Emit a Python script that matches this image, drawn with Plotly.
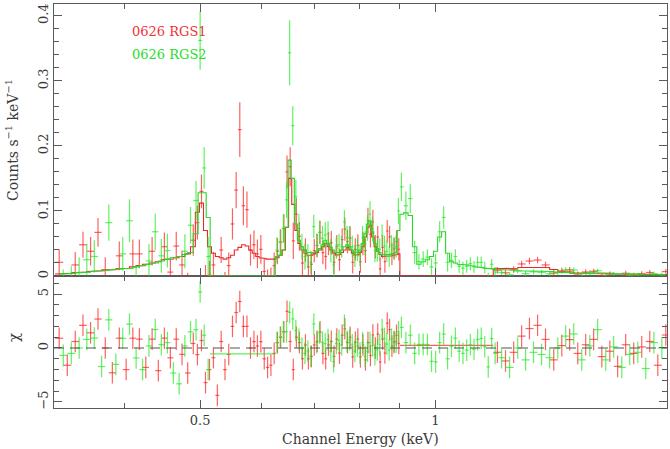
import numpy as np
import plotly.graph_objects as go

# RGS1 (red) - channels below and above the chip gap
rgs1_lo_e = [0.330, 0.338, 0.346, 0.354, 0.362, 0.370, 0.378, 0.386, 0.394, 0.402, 0.410, 0.418, 0.426, 0.434,
             0.442, 0.450, 0.458, 0.466, 0.474, 0.482, 0.490,
             0.496, 0.502, 0.508, 0.514, 0.520, 0.526, 0.532, 0.538, 0.544, 0.550, 0.556, 0.562, 0.568, 0.574,
             0.580, 0.586, 0.592, 0.598, 0.604, 0.610, 0.616, 0.622, 0.628, 0.634, 0.640, 0.646, 0.652, 0.658,
             0.664, 0.670, 0.676, 0.682, 0.688, 0.694, 0.700, 0.706, 0.712, 0.718, 0.724, 0.730, 0.736, 0.742,
             0.748, 0.754, 0.760, 0.766, 0.772, 0.778, 0.784, 0.790, 0.796, 0.802, 0.808, 0.814, 0.820, 0.826,
             0.832, 0.838, 0.844, 0.850, 0.856, 0.862, 0.868, 0.874, 0.880, 0.886, 0.892, 0.898]
rgs1_lo_model = [.003, .004, .005, .006, .007, .008, .009, .010, .011, .012, .014, .016, .018, .020,
                 .022, .025, .026, .028, .030, .034, .045,
                 .098, .112, .070, .045, .035, .030, .028, .026, .028, .032, .040, .044, .048, .046,
                 .040, .035, .030, .028, .027, .026, .025, .026, .028, .032, .040, .075, .150, .110,
                 .070, .050, .040, .035, .032, .032, .034, .036, .040, .045, .050, .045, .040, .035,
                 .032, .033, .036, .040, .044, .040, .035, .032, .033, .036, .045, .060, .075, .078,
                 .060, .045, .038, .033, .030, .030, .030, .031, .031, .032, .033, .034]
rgs1_lo_rate = [.021, -.028, .017, .048, .038, .067, .009, -.036, .031, -.028, .034, .034, -.018, .038,
                -.020, .045, .006, .046, .017, -.017, .055,
                .082, .130, -.007, .001, .017, -.049, .040, -.014, .016, .080, .132, .225, .108, .102,
                .040, .048, .034, .041, .007, -.010, -.007, .016, .038, .052, .073, .160, .168, .054,
                .095, .061, .020, .040, .014, .018, .039, .047, .067, .036, .030, .050, .051, .021,
                .046, .025, .056, .072, .053, .058, .021, .041, .047, .022, .050, .039, .085, .064,
                .083, .045, .060, .011, .044, .022, .069, .060, .034, .042, .053, .041]
rgs1_lo_err = [.020, .020, .020, .020, .022, .022, .020, .020, .022, .020, .022, .022, .020, .022,
               .020, .022, .022, .022, .022, .022, .024,
               .026, .026, .024, .022, .020, .018, .020, .020, .020, .024, .028, .042, .030, .028,
               .024, .022, .022, .022, .020, .020, .020, .020, .020, .020, .022, .025, .030, .028,
               .025, .022, .020, .018, .018, .018, .018, .018, .018, .018, .020, .018, .018, .018,
               .017, .017, .017, .018, .018, .018, .017, .017, .017, .017, .018, .019, .020, .020,
               .019, .018, .017, .017, .017, .017, .017, .017, .017, .017, .017, .017]

rgs1_hi_e = [1.201, 1.230, 1.260, 1.290, 1.320, 1.352, 1.384, 1.418, 1.452, 1.486, 1.522,
             1.558, 1.595, 1.634, 1.673, 1.712, 1.753, 1.795, 1.838, 1.882, 1.927, 1.973]
rgs1_hi_model = [.011, .011, .012, .013, .014, .014, .013, .010, .007, .006, .005,
                 .005, .004, .004, .004, .003, .003, .003, .003, .003, .002, .002]
rgs1_hi_rate = [.009, .005, .010, .0185, .023, .0245, .017, .0045, .008, .0095, .003,
                .0062, .0072, .0008, .0028, -.0038, .0042, .001, .0034, .0054, -.0044, .0068]
rgs1_hi_err = [.005, .005, .005, .005, .005, .005, .005, .005, .0045, .0045, .004,
               .004, .004, .004, .004, .004, .004, .004, .004, .004, .004, .004]
rgs1_gap_chi = 0.25

# RGS2 (green)
rgs2_lo_e = [0.334, 0.342, 0.350, 0.358, 0.366, 0.374, 0.382, 0.390, 0.398, 0.406, 0.414, 0.422,
             0.430, 0.438, 0.446, 0.454, 0.462, 0.470, 0.478, 0.486, 0.494, 0.500, 0.506, 0.512]
rgs2_lo_model = [.003, .004, .005, .006, .007, .008, .009, .010, .011, .012, .014, .016,
                 .018, .020, .023, .026, .028, .030, .033, .036, .065, .128, .128, .090]
rgs2_lo_rate = [-.012, -.007, .005, .025, .030, -.035, .082, -.028, .034, .085, -.009, -.034,
                .023, .068, .031, .039, -.030, -.053, .038, .078, .116, .362, .166, .030]
rgs2_lo_err = [.022, .022, .024, .024, .025, .025, .028, .025, .026, .033, .025, .025,
               .026, .028, .026, .026, .025, .025, .026, .028, .030, .045, .032, .030]

rgs2_hi_e = [0.627, 0.633, 0.639, 0.645, 0.651, 0.657, 0.663, 0.669, 0.675, 0.681, 0.687, 0.693,
             0.699, 0.705, 0.711, 0.717, 0.723, 0.729, 0.735, 0.741, 0.747, 0.753, 0.759, 0.765,
             0.771, 0.777, 0.783, 0.789, 0.795, 0.801, 0.807, 0.813, 0.819, 0.825, 0.831, 0.837,
             0.843, 0.849, 0.855, 0.861, 0.867, 0.873, 0.879, 0.885, 0.891, 0.897,
             0.905, 0.917, 0.929, 0.941, 0.953, 0.965, 0.977, 0.989, 1.001, 1.013, 1.025, 1.037,
             1.049, 1.061, 1.073, 1.085, 1.097, 1.109, 1.121, 1.133, 1.145, 1.157, 1.169, 1.181, 1.193,
             1.216, 1.245, 1.275, 1.305, 1.336, 1.368, 1.401, 1.435, 1.469, 1.504, 1.540, 1.577,
             1.614, 1.653, 1.692, 1.733, 1.774, 1.817, 1.860, 1.905, 1.950]
rgs2_hi_model = [.030, .032, .040, .075, .178, .150, .080, .055, .045, .040, .036, .035,
                 .036, .038, .042, .048, .055, .050, .044, .040, .036, .036, .040, .045,
                 .048, .045, .040, .036, .037, .040, .050, .065, .080, .085, .068, .050,
                 .042, .036, .033, .032, .032, .033, .034, .035, .036, .070,
                 .095, .097, .093, .045, .018, .022, .025, .030, .038, .060, .068, .035,
                 .022, .020, .018, .017, .017, .016, .015, .014, .013, .012, .011, .011, .010,
                 .009, .009, .008, .008, .008, .008, .007, .006, .005, .004, .004, .004,
                 .003, .003, .003, .003, .003, .003, .002, .002, .002]
rgs2_hi_rate = [.040, .052, .073, .117, .343, .231, .122, .073, .045, .030, .031, .021,
                .076, .047, .067, .058, .063, .065, .039, .017, .043, .048, .045, .083,
                .059, .059, .045, .031, .040, .032, .059, .050, .074, .095, .072, .039,
                .039, .041, .062, .046, .038, .030, .047, .043, .045, .100,
                .137, .108, .119, .036, .022, .026, .029, .014, .020, .068, .090, .021,
                .024, .030, .015, .012, .015, .019, .014, .021, .021, .013, -.003, .018, .006,
                .0054, .0018, .008, .0036, .0064, .0056, .0034, .006, .0094, .0092, -.0004, .0048,
                .0081, -.0003, .0033, -.0024, .0012, .0018, -.0037, .0035, .002]
rgs2_hi_err = [.020, .020, .022, .028, .050, .030, .026, .022, .020, .020, .018, .018,
               .018, .018, .018, .019, .020, .019, .018, .018, .017, .017, .017, .018,
               .018, .018, .017, .017, .017, .017, .018, .019, .020, .020, .019, .018,
               .017, .017, .017, .016, .016, .016, .016, .016, .017, .020,
               .022, .022, .022, .018, .012, .012, .012, .013, .014, .016, .017, .014,
               .012, .011, .010, .010, .010, .010, .009, .009, .009, .009, .008, .008, .008,
               .004, .004, .004, .004, .004, .004, .004, .004, .004, .004, .004, .004,
               .003, .003, .003, .003, .003, .003, .003, .003, .003]
rgs2_gap_chi = -0.55

x_ticks = [0.5, 1]
x_minor = [0.4, 0.6, 0.7, 0.8, 0.9, 2]

RED = 'rgba(255,30,30,0.7)'
GREEN = 'rgba(30,235,30,0.7)'
FRAME = '#5a5a5a'
TXT = '#3a3a3a'
FONT = 'DejaVu Serif'


def bin_edges(c):
    c = np.asarray(c)
    mid = (c[1:] + c[:-1]) / 2
    left = np.concatenate([[c[0] - (c[1] - c[0]) / 2], mid])
    right = np.concatenate([mid, [c[-1] + (c[-1] - c[-2]) / 2]])
    return left, right


def add_group(fig, lo, hi, gap_chi, color, lcolor):
    step_x, step_y = [], []
    gap = []
    hidden = dict(size=1, color='rgba(0,0,0,0)')
    for e, rate, err, model in (lo, hi):
        e, rate, err, model = map(np.asarray, (e, rate, err, model))
        left, right = bin_edges(e)
        gap.append((left[0], right[-1]))
        chi = (rate - model) / err
        xerr = dict(type='data', array=right - e, arrayminus=e - left, width=0,
                    thickness=1.2, color=color)
        fig.add_trace(go.Scatter(x=e, y=rate, mode='markers', marker=hidden,
                                 error_x=xerr, error_y=dict(type='data', array=err, width=0,
                                                            thickness=1.2, color=color),
                                 xaxis='x2', yaxis='y2'))
        fig.add_trace(go.Scatter(x=e, y=chi, mode='markers', marker=hidden,
                                 error_x=xerr, error_y=dict(type='data', array=np.ones(len(e)),
                                                            width=0, thickness=1.2, color=color),
                                 xaxis='x', yaxis='y'))
        step_x.append(np.column_stack([left, right]).ravel())
        step_y.append(np.repeat(model, 2))
    g0, g1 = gap[0][1], gap[1][0]
    sx = np.concatenate([step_x[0], [g0, g1], step_x[1]])
    sy = np.concatenate([step_y[0], [0, 0], step_y[1]])
    fig.add_trace(go.Scatter(x=sx, y=sy, mode='lines', line=dict(color=lcolor, width=1.1),
                             xaxis='x2', yaxis='y2'))
    fig.add_trace(go.Scatter(x=[g0, g1], y=[gap_chi, gap_chi], mode='lines',
                             line=dict(color=color, width=1.3), xaxis='x', yaxis='y'))


fig = go.Figure()
add_group(fig, (rgs1_lo_e, rgs1_lo_rate, rgs1_lo_err, rgs1_lo_model),
          (rgs1_hi_e, rgs1_hi_rate, rgs1_hi_err, rgs1_hi_model), rgs1_gap_chi, RED, 'rgb(235,40,40)')
add_group(fig, (rgs2_lo_e, rgs2_lo_rate, rgs2_lo_err, rgs2_lo_model),
          (rgs2_hi_e, rgs2_hi_rate, rgs2_hi_err, rgs2_hi_model), rgs2_gap_chi, GREEN, 'rgb(40,215,40)')

axis_common = dict(showline=True, linecolor=FRAME, linewidth=1.3, mirror='allticks',
                   ticks='inside', ticklen=8, tickwidth=1.1, tickcolor=FRAME,
                   showgrid=False, zeroline=False, tickfont=dict(family=FONT, size=13, color=TXT))
split = 132 / 404

fig.update_layout(
    width=670, height=449,
    margin=dict(l=54, r=3, t=4, b=41),
    plot_bgcolor='white', paper_bgcolor='white',
    showlegend=False,
    font=dict(family=FONT, size=13, color=TXT),
    xaxis=dict(type='log', range=[np.log10(0.325), np.log10(1.98)], anchor='y', domain=[0, 1],
               tickvals=x_ticks, ticktext=['0.5', '1'],
               minor=dict(tickvals=x_minor, ticks='inside', ticklen=5, tickwidth=1.1, tickcolor=FRAME),
               **axis_common),
    xaxis2=dict(type='log', matches='x', anchor='y2', showticklabels=False,
                tickvals=x_ticks,
                minor=dict(tickvals=x_minor, ticks='inside', ticklen=5, tickwidth=1.1, tickcolor=FRAME),
                **axis_common),
    yaxis=dict(domain=[0, split], range=[-5.56, 6.67], anchor='x', tickangle=-90,
               tickvals=[-5, 0, 5], ticktext=['\u22125', '0', '5'],
               minor=dict(dtick=1, ticks='inside', ticklen=5, tickwidth=1.1, tickcolor=FRAME),
               **axis_common),
    yaxis2=dict(domain=[split, 1], range=[0, 0.418], anchor='x2', tickangle=-90,
                tickvals=[0, 0.1, 0.2, 0.3, 0.4], ticktext=['0', '0.1', '0.2', '0.3', '0.4'],
                minor=dict(dtick=0.02, ticks='inside', ticklen=5, tickwidth=1.1, tickcolor=FRAME),
                **axis_common),
    shapes=[dict(type='line', xref='x domain', yref='y', x0=0, x1=1, y0=0, y1=0,
                 line=dict(color='#555', width=1.2, dash='10px,6px'))],
    annotations=[
        dict(text='Channel Energy (keV)', xref='paper', yref='paper', x=0.5, y=0, yshift=-31,
             showarrow=False, font=dict(size=14), xanchor='center', yanchor='middle'),
        dict(text='Counts s<sup>\u22121</sup> keV<sup>\u22121</sup>', xref='paper', yref='paper',
             x=0, xshift=-42, y=(1 + split) / 2, textangle=-90, showarrow=False,
             font=dict(size=14), xanchor='center', yanchor='middle'),
        dict(text='\u03c7', xref='paper', yref='paper', x=0, xshift=-40, y=split / 2 + 0.01,
             textangle=-90, showarrow=False, font=dict(size=15), xanchor='center', yanchor='middle'),
        dict(text='0626 RGS1', xref='paper', yref='paper', x=(130 - 54) / 613, y=(408 - 32) / 404,
             showarrow=False, font=dict(size=13, color='rgb(240,50,50)'), xanchor='left', yanchor='middle'),
        dict(text='0626 RGS2', xref='paper', yref='paper', x=(130 - 54) / 613, y=(408 - 54) / 404,
             showarrow=False, font=dict(size=13, color='rgb(40,220,40)'), xanchor='left', yanchor='middle'),
    ],
)

# the page's default 8px body margin would shift the figure inside the window
fig.write_html('out.html', config={'displayModeBar': False},
               post_script="document.body.style.margin='0';")
